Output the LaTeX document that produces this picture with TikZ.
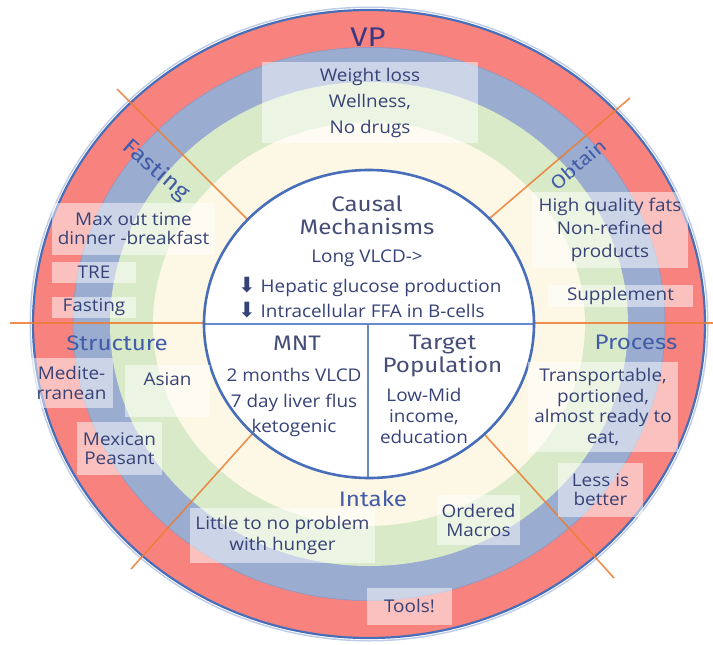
\documentclass[tikz,border=0pt]{standalone}
\usepackage{fontspec}
\setmainfont{Open Sans}[FakeStretch=1.08]
\newfontfamily\handfont{Fira Sans}[FakeStretch=1.15]
\newfontfamily\arrowfont{DejaVu Sans}
\usetikzlibrary{calc}

\definecolor{ringred}{RGB}{248,131,126}
\definecolor{ringblue}{RGB}{154,172,208}
\definecolor{ringgreen}{RGB}{217,234,200}
\definecolor{ringcream}{RGB}{253,247,229}
\definecolor{edgeblue}{RGB}{72,110,186}
\definecolor{seamblue}{RGB}{110,105,160}
\definecolor{divorange}{RGB}{236,124,50}
\definecolor{innerdiv}{RGB}{105,138,200}
\definecolor{bodyink}{RGB}{55,66,118}
\definecolor{labelink}{RGB}{66,92,168}
\definecolor{headink}{RGB}{70,78,120}
\definecolor{vpink}{RGB}{58,56,130}

\tikzset{
  panel/.style={fill=white, fill opacity=0.5, text opacity=1, draw=none,
    inner sep=0pt, align=center, text=bodyink},
  body/.style={inner sep=0pt, align=center, text=bodyink},
  hand/.style={inner sep=0pt, align=center, text=labelink,
    font=\handfont\fontsize{21}{23}\selectfont},
  head/.style={hand, text=headink},
  spoke/.style={draw=divorange, line width=1.6pt, draw opacity=0.85},
  split/.style={draw=innerdiv, line width=1.8pt},
}
\newcommand\bodysize[1]{\fontsize{17.5}{#1}\selectfont}
\newcommand\dn{{\arrowfont\fontsize{21}{21}\selectfont ⬇}}

\begin{document}
\begin{tikzpicture}[x=1pt, y=-1pt]
\useasboundingbox (0,0) rectangle (713,645);
\fill[white] (0,0) rectangle (713,645);

\coordinate (C) at (369,324);

% concentric bands
\fill[edgeblue!35] (C) ellipse [x radius=339.5pt, y radius=317.5pt];
\fill[white] (C) ellipse [x radius=338pt, y radius=316pt];
\fill[ringred] (C) ellipse [x radius=336pt, y radius=314pt];
\fill[ringblue] (C) ellipse [x radius=296pt, y radius=276.6pt];
\draw[seamblue!70, line width=0.8pt] (C) ellipse [x radius=296pt, y radius=276.6pt];
\fill[ringgreen] (C) ellipse [x radius=259pt, y radius=242pt];
\fill[ringcream] (C) ellipse [x radius=216pt, y radius=201.8pt];
\draw[edgeblue, line width=2.2pt] (C) ellipse [x radius=336pt, y radius=314pt];

% spokes between the sectors
\coordinate (hl0) at (10,323);   \coordinate (hl1) at (204,323);
\coordinate (hr0) at (534,323);  \coordinate (hr1) at (713,323);
\coordinate (ul0) at (117,89);   \coordinate (ul1) at (248,220);
\coordinate (ur0) at (630,98);   \coordinate (ur1) at (490,218);
\coordinate (ll0) at (131,569);  \coordinate (ll1) at (253,433);
\coordinate (lr0) at (614,578);  \coordinate (lr1) at (485,435);
\draw[spoke] (hl0) -- (hl1);
\draw[spoke] (hr0) -- (hr1);
\draw[spoke] (ul0) -- (ul1);
\draw[spoke] (ur0) -- (ur1);
\draw[spoke] (ll0) -- (ll1);
\draw[spoke] (lr0) -- (lr1);

% central disc
\fill[white] (C) ellipse [x radius=165pt, y radius=154pt];
\coordinate (cl) at (204,324);  \coordinate (cr) at (534,324);
\coordinate (cb) at (368,478);
\draw[split] (cl) -- (cr);
\draw[split] (C -| cb) -- (cb);
\draw[edgeblue, line width=2.6pt] (C) ellipse [x radius=165pt, y radius=154pt];

% outer ring labels
\node[hand, text=vpink, font=\handfont\fontsize{27}{30}\selectfont] (vp) at (368,37) {VP};
\node[hand, rotate=-41, font=\handfont\fontsize{22}{24}\selectfont] (fasting) at (156,170) {Fasting};
\node[hand, rotate=40, font=\handfont\fontsize{19}{21}\selectfont] (obtain) at (578,164) {Obtain};
\node[hand] (structure) at (117,343) {Structure};
\node[hand] (process) at (636,342) {Process};
\node[hand] (intake) at (373,499) {Intake};

% panels in the rings
\node[panel, minimum width=216pt, minimum height=81pt, font=\bodysize{26}] (vpbox) at (370,102.5)
  {Weight loss\\Wellness,\\No drugs};
\node[panel, minimum width=163pt, minimum height=52pt, font=\bodysize{19}] (maxbox) at (133.5,229)
  {Max out time\\dinner -breakfast};
\node[panel, minimum width=84pt, minimum height=21pt, font=\bodysize{19}] (trebox) at (94,272.5) {TRE};
\node[panel, minimum width=84pt, minimum height=21pt, font=\bodysize{19}] (fastbox) at (94,307.5) {Fasting};
\node[panel, minimum width=83pt, minimum height=50pt, font=\bodysize{20}] (medbox) at (71.5,383)
  {Medite-\\rranean};
\node[panel, minimum width=85pt, inner ysep=7pt, text depth=25pt, anchor=north, font=\bodysize{19}] (asianbox) at (167.5,365) {Asian};
\node[panel, minimum width=85pt, minimum height=53pt, font=\bodysize{19}] (mexbox) at (119.5,448.5)
  {Mexican\\Peasant};
\node[panel, minimum width=156pt, minimum height=76pt, font=\bodysize{23}] (fatsbox) at (610,230)
  {High quality fats\\Non-refined\\products};
\node[panel, minimum width=145pt, minimum height=22pt, font=\bodysize{19}] (suppbox) at (620.5,296) {Supplement};
\node[panel, minimum width=150pt, minimum height=90pt, font=\bodysize{20.5}] (transbox) at (603,407)
  {Transportable,\\portioned,\\almost ready to\\eat,};
\node[panel, minimum width=85pt, minimum height=54pt, font=\bodysize{19}] (lessbox) at (600.5,490)
  {Less is\\better};
\node[panel, minimum width=185pt, minimum height=55pt, font=\bodysize{21}] (hungerbox) at (282.5,535)
  {Little to no problem\\with hunger};
\node[panel, minimum width=83pt, minimum height=50pt, font=\bodysize{19}] (macrobox) at (478.5,520)
  {Ordered\\Macros};
\node[panel, minimum width=85pt, minimum height=37pt, font=\bodysize{19}] (toolsbox) at (409.5,606) {Tools!};

% central disc contents
\node[head] (causal) at (367,215.5) {Causal\\Mechanisms};
\node[body, font=\bodysize{25}] (vlcd) at (367,258) {Long VLCD->};
\node[body, align=left, anchor=west, font=\bodysize{25}] (effects) at (238,297.5)
  {\dn\ Hepatic glucose production\\\dn\ Intracellular FFA in B-cells};
\node[head] (mnt) at (297,343) {MNT};
\node[body, font=\bodysize{25.5}] (mntbody) at (294,402.5)
  {2 months VLCD\\7 day liver flus\\ketogenic};
\node[head] (target) at (442.5,355.5) {Target\\Population};
\node[body, font=\bodysize{21}] (popbody) at (424,416)
  {Low-Mid\\income,\\education};
\end{tikzpicture}
\end{document}
